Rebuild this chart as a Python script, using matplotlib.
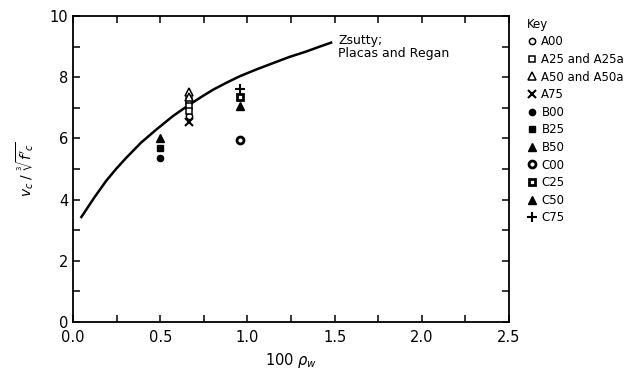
import numpy as np
import matplotlib.pyplot as plt
from matplotlib.ticker import MultipleLocator, FormatStrFormatter

plt.rcParams['mathtext.fontset'] = 'dejavusans'

# Zsutty curve
curve_x = [0.048, 0.12, 0.191, 0.25, 0.306, 0.39, 0.478, 0.573, 0.669, 0.74, 0.803,
           0.88, 0.956, 1.05, 1.147, 1.24, 1.338, 1.41, 1.48]
curve_y = [3.43, 4.05, 4.62, 5.02, 5.37, 5.86, 6.29, 6.73, 7.11, 7.37, 7.59,
           7.82, 8.03, 8.25, 8.46, 8.66, 8.84, 8.99, 9.13]

# test specimens
A00_x, A00_y = [0.665], [6.72]
A25_x, A25_y = [0.665, 0.665, 0.665], [7.22, 7.06, 6.9]
A50_x, A50_y = [0.665, 0.665], [7.5, 7.36]
A75_x, A75_y = [0.665], [6.54]
B00_x, B00_y = [0.5], [5.37]
B25_x, B25_y = [0.5], [5.7]
B50_x, B50_y = [0.5], [6.0]
C00_x, C00_y = [0.956], [5.94]
C25_x, C25_y = [0.956], [7.34]
C50_x, C50_y = [0.956], [7.05]
C75_x, C75_y = [0.956], [7.6]

fig = plt.figure(figsize=(6.25, 3.72), dpi=100)
ax = fig.add_axes([0.1168, 0.1344, 0.6976, 0.8226])

ax.plot(curve_x, curve_y, color='black', lw=1.8)

ms = 4.5
ax.plot(A00_x, A00_y, 'o', mfc='white', mec='black', ms=ms, mew=1.1, label='A00')
ax.plot(A25_x, A25_y, 's', mfc='white', mec='black', ms=ms, mew=1.1, label='A25 and A25a')
ax.plot(A50_x, A50_y, '^', mfc='white', mec='black', ms=ms + 1, mew=1.1, label='A50 and A50a')
ax.plot(A75_x, A75_y, 'x', color='black', ms=ms + 1, mew=1.5, label='A75')
ax.plot(B00_x, B00_y, 'o', color='black', ms=ms, label='B00')
ax.plot(B25_x, B25_y, 's', color='black', ms=ms, label='B25')
ax.plot(B50_x, B50_y, '^', color='black', ms=ms + 1, label='B50')
ax.plot(C00_x, C00_y, 'o', mfc='white', mec='black', ms=ms + 0.5, mew=2.0, label='C00')
ax.plot(C25_x, C25_y, 's', mfc='white', mec='black', ms=ms + 0.5, mew=2.0, label='C25')
ax.plot(C50_x, C50_y, '^', color='black', ms=ms + 1, label='C50')
ax.plot(C75_x, C75_y, '+', color='black', ms=ms + 2, mew=1.5, label='C75')

ax.text(1.52, 9.42, 'Zsutty;\nPlacas and Regan', fontsize=9, va='top', ha='left',
        linespacing=1.05)

ax.set_xlim(0, 2.5)
ax.set_ylim(0, 10)
ax.xaxis.set_major_locator(MultipleLocator(0.5))
ax.xaxis.set_minor_locator(MultipleLocator(0.25))
ax.xaxis.set_major_formatter(FormatStrFormatter('%.1f'))
ax.yaxis.set_major_locator(MultipleLocator(2))
ax.yaxis.set_minor_locator(MultipleLocator(1))
ax.tick_params(which='both', direction='in', top=True, right=True, length=5, width=1.1,
               labelsize=10.5)
ax.tick_params(axis='x', pad=6)
for s in ax.spines.values():
    s.set_linewidth(1.3)

ax.set_xlabel(r'100 $\rho_w$', fontsize=10.5)
ax.set_ylabel(r"$v_c\;/\;\sqrt[3]{f'_c}$", fontsize=10, labelpad=10)

leg = fig.legend(loc='upper left', bbox_to_anchor=(0.836, 0.965), frameon=False,
                 title='Key', fontsize=8.5, title_fontsize=8.5, handlelength=0.8,
                 handletextpad=0.4, labelspacing=0.39, borderaxespad=0)
leg._legend_box.align = 'left'

fig.savefig('out.png', dpi=100)
